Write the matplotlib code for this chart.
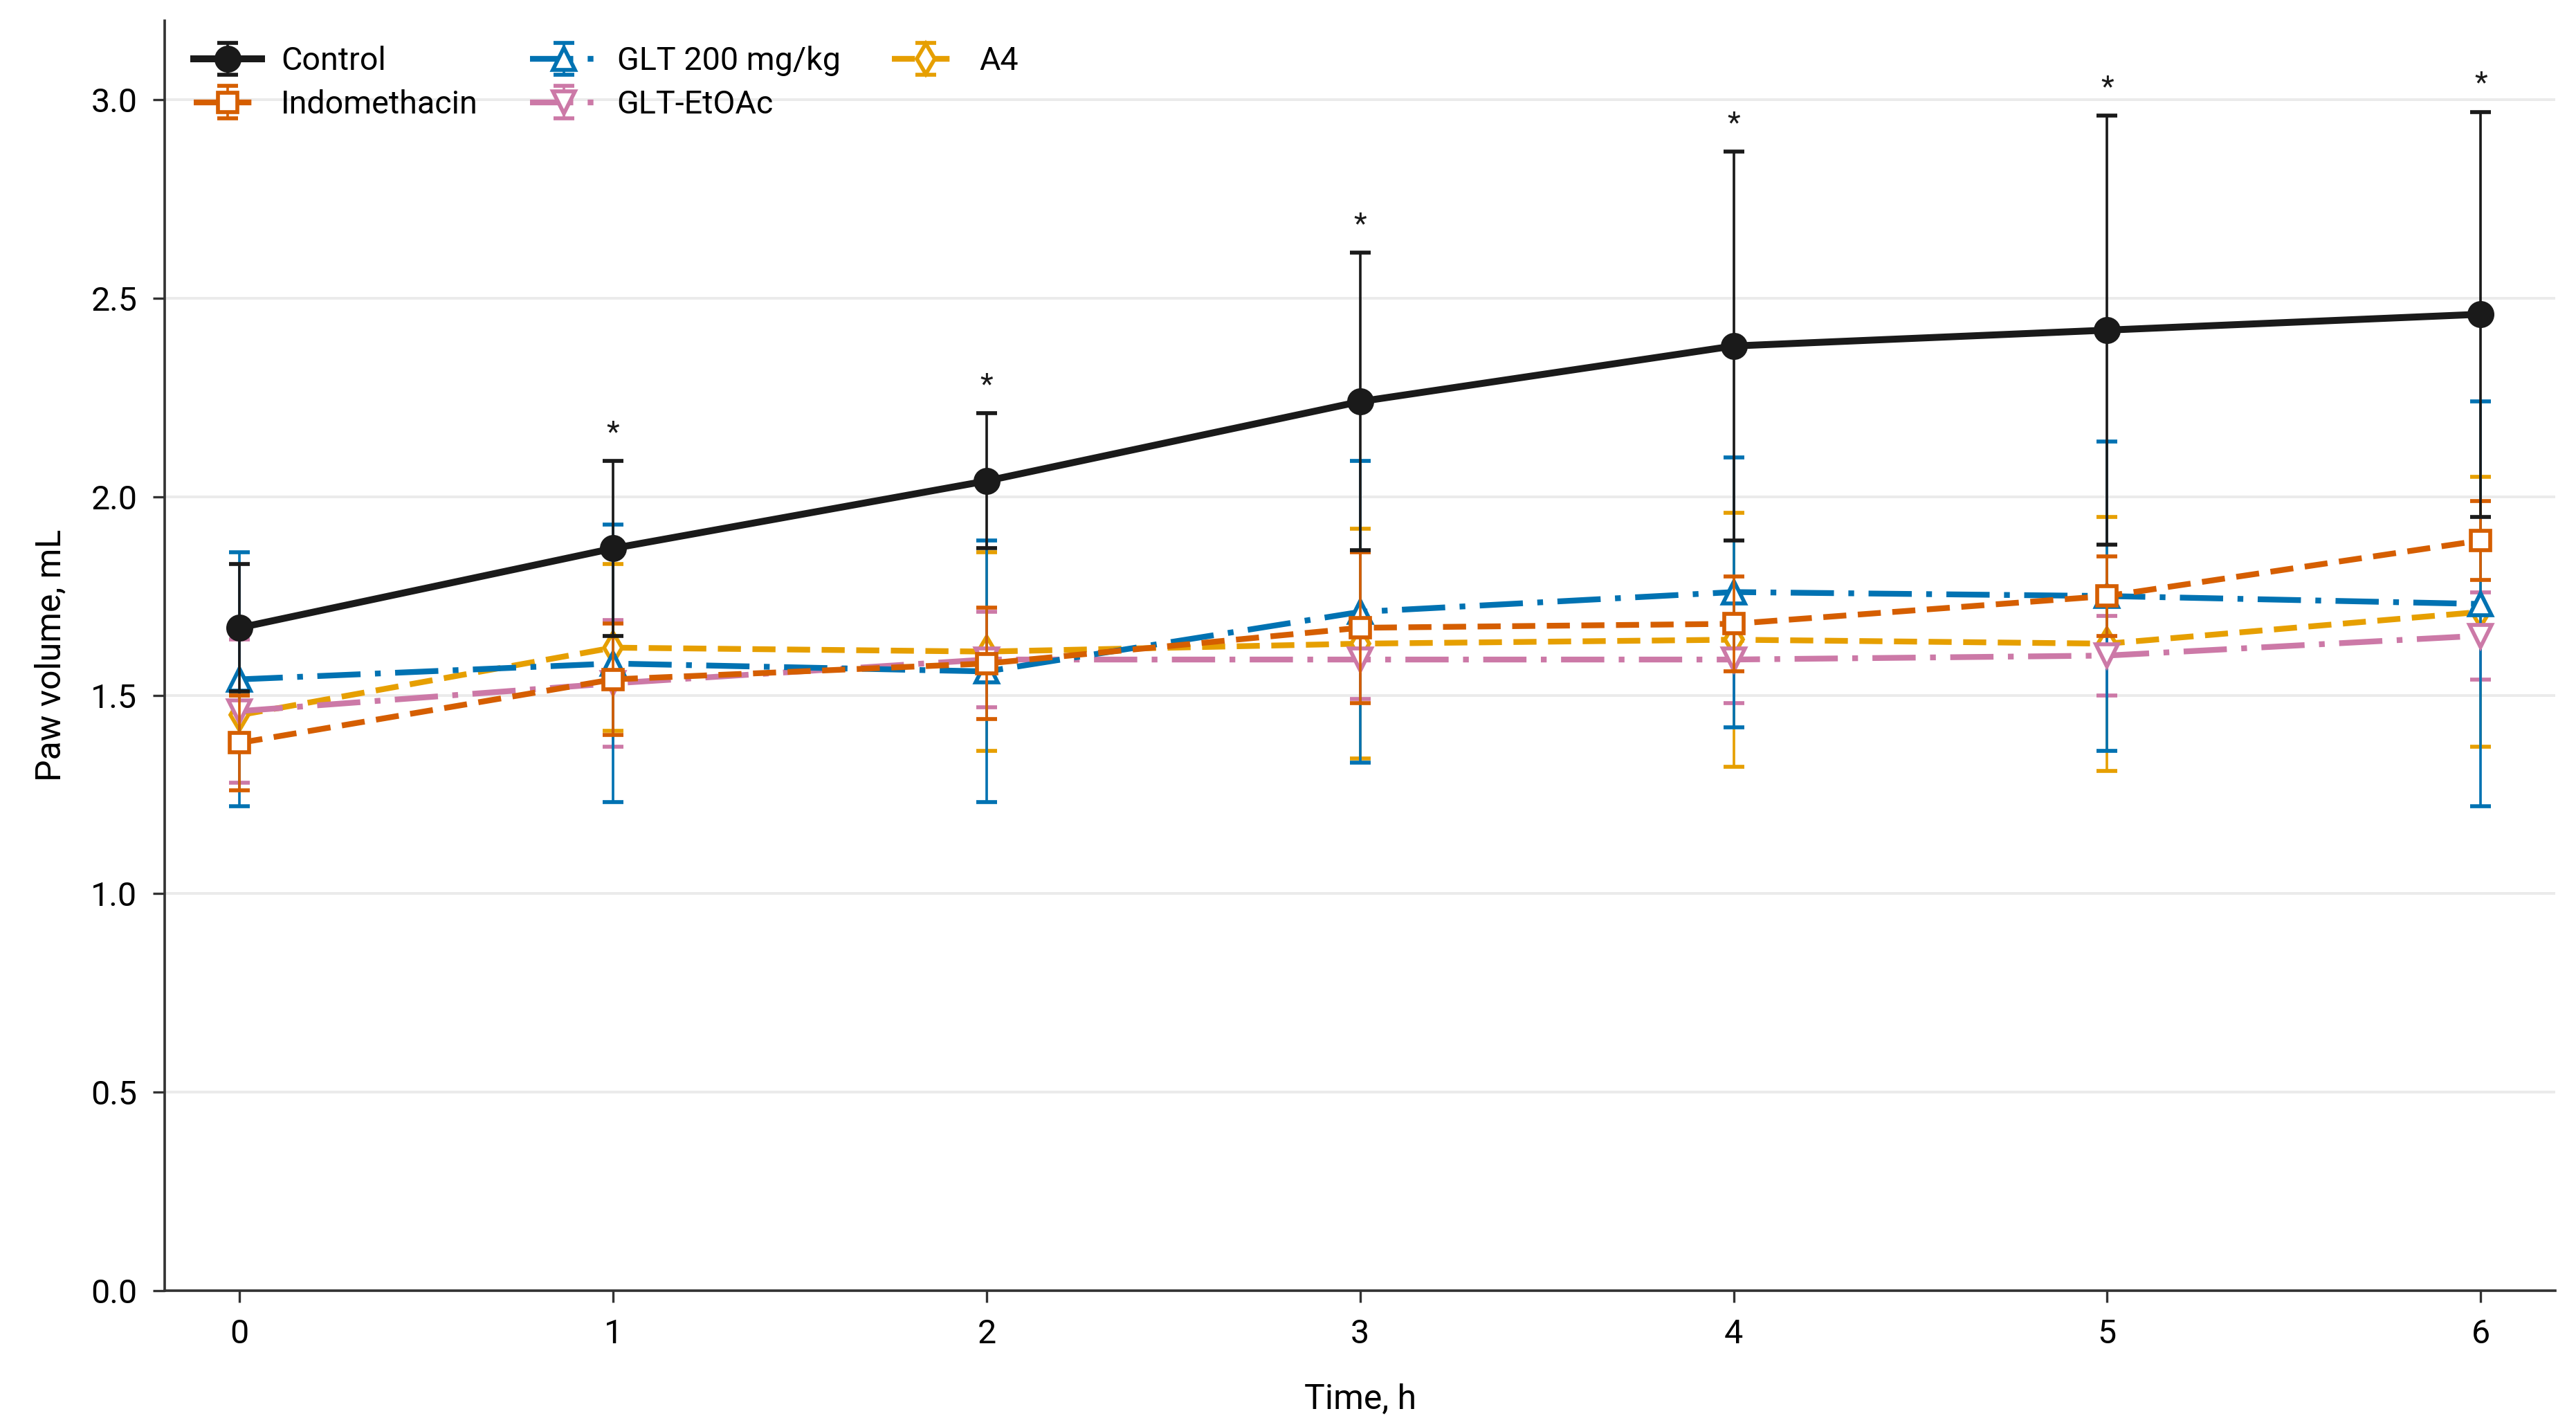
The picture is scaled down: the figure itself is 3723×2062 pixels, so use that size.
import matplotlib.pyplot as plt
import numpy as np

# paw volume (mL) vs time (h), mean and SD
hours = [0, 1, 2, 3, 4, 5, 6]
groups = ['Control', 'Indomethacin', 'GLT 200 mg/kg', 'GLT-EtOAc', 'A4']

control = [1.67, 1.87, 2.04, 2.24, 2.38, 2.42, 2.46]
control_sd = [0.16, 0.22, 0.17, 0.375, 0.49, 0.54, 0.51]
indomethacin = [1.38, 1.54, 1.58, 1.67, 1.68, 1.75, 1.89]
indomethacin_sd = [0.12, 0.14, 0.14, 0.19, 0.12, 0.10, 0.10]
glt200 = [1.54, 1.58, 1.56, 1.71, 1.76, 1.75, 1.73]
glt200_sd = [0.32, 0.35, 0.33, 0.38, 0.34, 0.39, 0.51]
glt_etoac = [1.46, 1.53, 1.59, 1.59, 1.59, 1.60, 1.65]
glt_etoac_sd = [0.18, 0.16, 0.12, 0.10, 0.11, 0.10, 0.11]
a4 = [1.45, 1.62, 1.61, 1.63, 1.64, 1.63, 1.71]
a4_sd = [0.05, 0.21, 0.25, 0.29, 0.32, 0.32, 0.34]

# significance marks for control vs treatments
star_hours = [1, 2, 3, 4, 5, 6]

plt.rcParams['font.family'] = ['Roboto', 'DejaVu Sans']

fig = plt.figure(figsize=(3723 / 240, 2062 / 240), dpi=240)
ax = fig.add_axes([0.064, 0.0956, 0.928, 0.89])

dashed = (0, (4, 2))
dashdot = (0, (7.5, 2.5, 1, 2.5))
styles = [
    # values, sd, color, linestyle, marker, filled, lw, ms
    (control, control_sd, '#1a1a1a', '-', 'o', True, 3.0, 10),
    (indomethacin, indomethacin_sd, '#d55e00', dashed, 's', False, 2.5, 8.5),
    (glt200, glt200_sd, '#0072b2', dashdot, '^', False, 2.5, 9.5),
    (glt_etoac, glt_etoac_sd, '#cc79a7', dashdot, 'v', False, 2.5, 9.5),
    (a4, a4_sd, '#e69f00', dashed, 'd', False, 2.5, 9.5),
]

handles = []
for i, (vals, sd, col, ls, mk, filled, lw, ms) in enumerate(styles):
    z = 10 if i == 0 else 5 - i * 0.1
    h = ax.errorbar(hours, vals, yerr=sd, color=col, ls=ls, lw=lw,
                    marker=mk, ms=ms, mfc=col if filled else 'white',
                    mec=col, mew=1.7, ecolor=col, elinewidth=1.1,
                    capsize=4.5, capthick=1.6, zorder=z, label=groups[i])
    handles.append(h)

for t in star_hours:
    ax.text(t, control[t] + control_sd[t] + 0.035, '*', ha='center', va='bottom',
            fontsize=13, color='#1a1a1a')

ax.set_xlim(-0.2, 6.2)
ax.set_ylim(0, 3.2)
ax.set_xticks(hours)
ax.set_yticks(np.arange(0, 3.01, 0.5))
ax.set_yticklabels(['%.1f' % v for v in np.arange(0, 3.01, 0.5)])
ax.tick_params(labelsize=14.5, length=5, width=1, color='#333333', pad=7)
ax.yaxis.grid(True, color='#ebebeb', lw=1.2)
ax.set_axisbelow(True)
for s in ['top', 'right']:
    ax.spines[s].set_visible(False)
for s in ['left', 'bottom']:
    ax.spines[s].set_color('#333333')
    ax.spines[s].set_linewidth(1.1)

ax.set_xlabel('Time, h', fontsize=15, labelpad=14)
ax.set_ylabel('Paw volume, mL', fontsize=15, labelpad=10)

ax.legend(handles=handles, loc='upper left', ncol=3, frameon=False, fontsize=14,
          bbox_to_anchor=(0.0, 1.003), handlelength=2.1, handletextpad=0.6,
          columnspacing=1.6, labelspacing=0.4)

plt.savefig('out.png', dpi=240)
